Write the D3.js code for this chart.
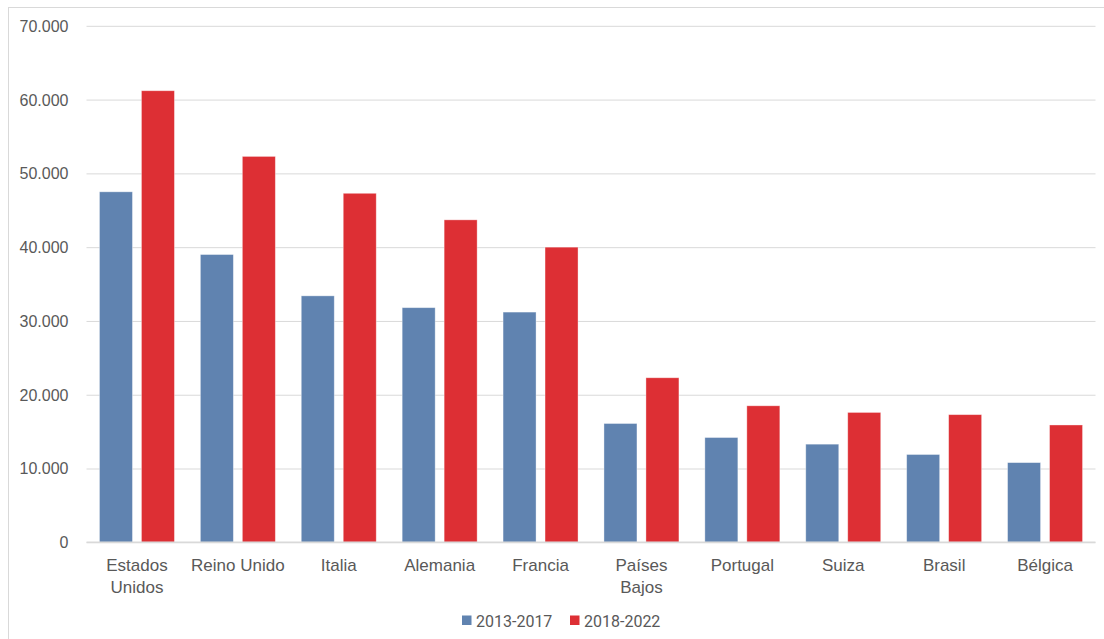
<!DOCTYPE html>
<html>
<head>
<meta charset="utf-8">
<script src="https://cdn.jsdelivr.net/npm/d3@7"></script>
<style>
  html, body { margin: 0; padding: 0; background: #fff; }
  svg { display: block; font-family: Roboto, "Noto Sans", sans-serif; }
</style>
</head>
<body>
<svg id="chart" width="1104" height="639"></svg>
<script>
const categories = ["Estados\nUnidos", "Reino Unido", "Italia", "Alemania", "Francia", "Países\nBajos", "Portugal", "Suiza", "Brasil", "Bélgica"];
const seriesNames = ["2013-2017", "2018-2022"];
const values2013_2017 = [47500, 39000, 33400, 31800, 31200, 16100, 14200, 13300, 11900, 10800];
const values2018_2022 = [61200, 52300, 47300, 43700, 40000, 22300, 18500, 17600, 17300, 15900];
const yTicks = [0, 10000, 20000, 30000, 40000, 50000, 60000, 70000];
const colors = ["#6083b0", "#dd2f34"];

(function () {
const svg = d3.select("#chart");
const W = 1104, H = 639;
const pLeft = 86.5, pRight = 1095.5, pTop = 25.8, pBottom = 542.3;

// chart area border (left/top visible)
svg.append("rect").attr("x", 8.5).attr("y", 7.5).attr("width", W + 10).attr("height", H + 10)
  .attr("fill", "none").attr("stroke", "#d9d9d9").attr("stroke-width", 1);

const y = d3.scaleLinear().domain([0, 70000]).range([pBottom, pTop]);
const x0 = d3.scaleBand().domain(d3.range(categories.length)).range([pLeft, pRight])
  .paddingInner(0.257).paddingOuter(0.257 / 2);
const x1 = d3.scaleBand().domain(seriesNames).range([0, x0.bandwidth()]).paddingInner(0.214).paddingOuter(0);

const fmt = d => d3.format(",")(d).replace(/,/g, ".");

// grid
const yAxis = d3.axisLeft(y).tickValues(yTicks).tickSize(-(pRight - pLeft)).tickFormat(fmt).tickPadding(18);
const gy = svg.append("g").attr("transform", `translate(${pLeft},0)`).call(yAxis);
gy.select(".domain").remove();
gy.selectAll(".tick line").attr("stroke", "#d9d9d9").attr("stroke-width", 1);
gy.selectAll(".tick text").attr("fill", "#595959").style("font-size", "16px").attr("dy", "0.34em");

// bars
const data = [values2013_2017, values2018_2022];
const groups = svg.append("g").selectAll("g").data(categories).join("g")
  .attr("transform", (d, i) => `translate(${x0(i)},0)`);
groups.selectAll("rect").data((d, i) => seriesNames.map((s, k) => ({ s, k, v: data[k][i] }))).join("rect")
  .attr("x", d => x1(d.s))
  .attr("y", d => y(d.v))
  .attr("width", x1.bandwidth())
  .attr("height", d => y(0) - y(d.v))
  .attr("fill", d => colors[d.k])
  .attr("stroke", "rgba(255,255,255,0.45)")
  .attr("stroke-width", 0.8);

// baseline
svg.append("line").attr("x1", pLeft).attr("x2", pRight).attr("y1", y(0)).attr("y2", y(0))
  .attr("stroke", "#d9d9d9").attr("stroke-width", 1.5);

// x axis labels
const xAxis = d3.axisBottom(x0).tickSize(0).tickFormat(() => "");
const gx = svg.append("g").attr("transform", `translate(0,${pBottom})`).call(xAxis);
gx.select(".domain").remove();
gx.selectAll(".tick").each(function (d, i) {
  const t = d3.select(this).select("text").text(null)
    .attr("fill", "#595959").style("font-size", "17px").attr("text-anchor", "middle").attr("y", 0).attr("dy", null);
  categories[i].split("\n").forEach((line, j) => {
    t.append("tspan").attr("x", 0).attr("y", 28.5 + j * 22).text(line);
  });
});

// legend
const legend = svg.append("g");
const legendX = [462, 570];
seriesNames.forEach((s, k) => {
  const g = legend.append("g").attr("transform", `translate(${legendX[k]},0)`);
  g.append("rect").attr("x", 0).attr("y", 615.5).attr("width", 9.5).attr("height", 9.5).attr("fill", colors[k]);
  g.append("text").attr("x", 14).attr("y", 627.3).attr("fill", "#595959").style("font-size", "16px").text(s);
});
})();
</script>
</body>
</html>
